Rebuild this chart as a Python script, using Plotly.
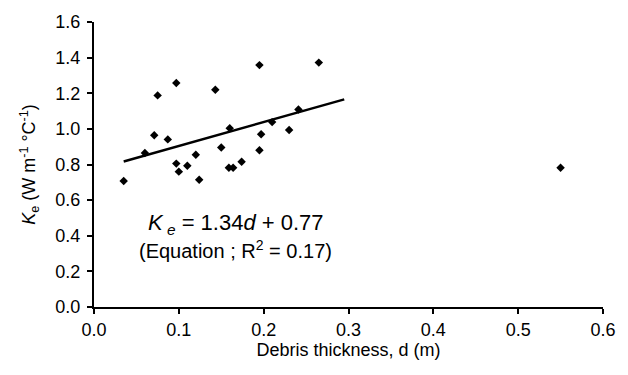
import plotly.graph_objects as go

# Data
debris_thickness = [0.035, 0.060, 0.071, 0.075, 0.087, 0.097, 0.097, 0.100, 0.110,
                     0.120, 0.124, 0.143, 0.150, 0.160, 0.159, 0.164, 0.174, 0.195,
                     0.197, 0.195, 0.210, 0.230, 0.241, 0.265, 0.550]
ke_values = [0.707, 0.864, 0.964, 1.188, 0.941, 1.257, 0.805, 0.760, 0.793,
             0.855, 0.714, 1.220, 0.895, 1.003, 0.782, 0.782, 0.815, 1.358,
             0.970, 0.880, 1.038, 0.994, 1.109, 1.372, 0.782]

fit_slope = 1.34
fit_intercept = 0.77
fit_x_range = [0.035, 0.295]
fit_y = [fit_slope * x + fit_intercept for x in fit_x_range]

x_ticks = [0.0, 0.1, 0.2, 0.3, 0.4, 0.5, 0.6]
x_tick_labels = ["0.0", "0.1", "0.2", "0.3", "0.4", "0.5", "0.6"]
y_ticks = [0.0, 0.2, 0.4, 0.6, 0.8, 1.0, 1.2, 1.4, 1.6]
y_tick_labels = ["0.0", "0.2", "0.4", "0.6", "0.8", "1.0", "1.2", "1.4", "1.6"]

FONT = "Arial, Liberation Sans, sans-serif"
AX = 18

fig = go.Figure()
fig.add_trace(go.Scatter(
    x=debris_thickness, y=ke_values, mode="markers",
    marker=dict(symbol="diamond", size=6.5, color="black"),
    showlegend=False, cliponaxis=False,
))
fig.add_trace(go.Scatter(
    x=fit_x_range, y=fit_y, mode="lines",
    line=dict(color="black", width=2.4),
    showlegend=False,
))

fig.add_annotation(
    x=0.167, y=0.468, xref="x", yref="y",
    text="<i>K</i><sub> <i>e</i></sub> = 1.34<i>d</i> + 0.77",
    showarrow=False, font=dict(family=FONT, size=22, color="black"),
)
fig.add_annotation(
    x=0.167, y=0.322, xref="x", yref="y",
    text="(Equation ; R<sup>2</sup> = 0.17)",
    showarrow=False, font=dict(family=FONT, size=20, color="black"),
)

fig.update_layout(
    width=628, height=375,
    margin=dict(l=94, r=24.5, t=15.8, b=67.5),
    paper_bgcolor="white", plot_bgcolor="white",
    font=dict(family=FONT, size=AX, color="black"),
    xaxis=dict(
        range=[0, 0.6], tickvals=x_ticks, ticktext=x_tick_labels,
        showgrid=False, zeroline=False, showline=True, linecolor="black", linewidth=2,
        ticks="outside", ticklen=5, tickwidth=2, tickcolor="black",
        title=dict(text="Debris thickness, d (m)", standoff=1,
                   font=dict(family=FONT, size=AX)),
        tickfont=dict(family=FONT, size=AX),
    ),
    yaxis=dict(
        range=[0, 1.6], tickvals=y_ticks, ticktext=y_tick_labels,
        showgrid=False, zeroline=False, showline=True, linecolor="black", linewidth=2,
        ticks="outside", ticklen=5, tickwidth=2, tickcolor="black",
        ticklabelstandoff=3,
        title=dict(text="<i>K</i><sub>e</sub> (W m<sup>-1</sup> °C<sup>-1</sup>)",
                   standoff=15, font=dict(family=FONT, size=AX)),
        tickfont=dict(family=FONT, size=AX),
    ),
)

fig.write_html("out.html")
